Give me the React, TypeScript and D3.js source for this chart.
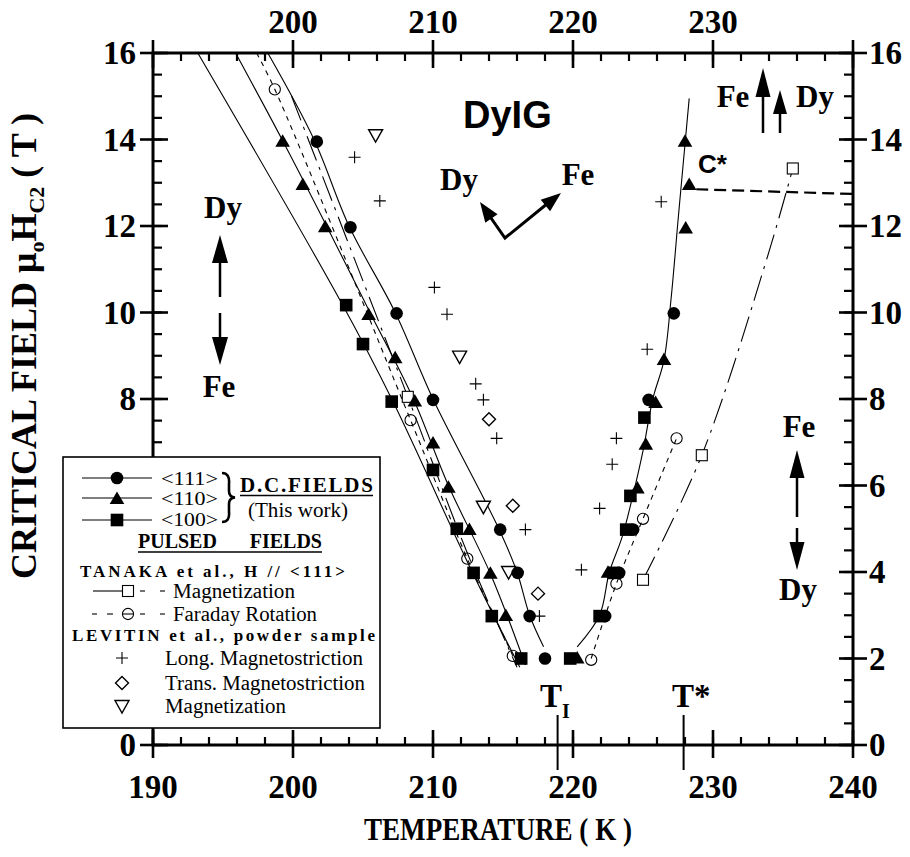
import React from 'react';
import * as d3 from 'd3';

const W = 910;
const H = 857;
const SERIF = '"Liberation Serif", "Times New Roman", serif';
const SANS = '"Liberation Sans", Arial, sans-serif';

const xDomain = [190, 240];
const yDomain = [0, 16];
const xLabelsBottom = [190, 200, 210, 220, 230, 240];
const xLabelsTop = [200, 210, 220, 230];
const yLabels = [0, 2, 4, 6, 8, 10, 12, 14, 16];
const T_I = 218.9;
const T_STAR = 227.9;

// data points: [temperature K, critical field T]
const dc111 = [[201.7, 13.95], [204.1, 11.97], [207.4, 9.98], [210.0, 7.98], [214.8, 4.98], [216.05, 3.98], [216.9, 2.98], [218.0, 2.0], [222.3, 2.98], [223.3, 3.98], [224.3, 4.98], [225.4, 7.98], [227.2, 9.98]];
const dc110 = [[199.26, 13.95], [200.7, 12.95], [202.3, 11.97], [205.4, 9.94], [207.3, 8.94], [208.7, 7.94], [210.0, 6.97], [211.1, 5.95], [212.6, 4.97], [214.1, 3.96], [215.2, 2.98], [220.3, 2.0], [222.5, 3.98], [224.6, 5.93], [225.2, 6.94], [225.9, 7.91], [226.5, 8.9], [228.05, 11.94], [228.3, 12.95], [228.0, 13.95]];
const dc100 = [[203.8, 10.17], [205.0, 9.27], [207.05, 7.94], [210.0, 6.36], [211.7, 5.0], [212.9, 3.98], [214.2, 2.98], [216.3, 2.0], [219.8, 2.0], [221.9, 2.98], [222.9, 3.98], [223.8, 4.98], [224.1, 5.76], [225.1, 7.57]];
const tanakaMag = [[208.2, 8.05], [225.0, 3.82], [229.2, 6.7], [235.7, 13.33]];
const tanakaFaraday = [[198.7, 15.16], [208.4, 7.51], [212.45, 4.31], [215.7, 2.06], [221.3, 1.97], [223.1, 3.73], [225.0, 5.23], [227.4, 7.09]];
const levitinLong = [[204.4, 13.59], [206.2, 12.58], [210.1, 10.58], [211.0, 9.96], [213.05, 8.35], [213.6, 7.98], [214.55, 7.09], [216.6, 4.98], [217.6, 2.98], [220.6, 4.05], [221.9, 5.47], [222.8, 6.49], [223.1, 7.09], [225.3, 9.15], [226.3, 12.56]];
const levitinTrans = [[214.0, 7.53], [215.7, 5.53], [217.5, 3.5]];
const levitinMag = [[205.9, 14.1], [211.9, 8.98], [213.6, 5.51], [215.4, 4.0]];

// guide curves
const fit100 = [[193.2, 16], [203.5, 10.2], [207.2, 7.9], [212.8, 4.0], [216.2, 1.8]];
const fit110 = [[195.9, 16], [199.3, 13.95], [202.4, 12.0], [205.5, 10.0], [208.6, 8.0], [211.1, 6.0], [214.1, 3.96], [216.6, 1.85]];
const fit111 = [[198.2, 16], [201.5, 14.0], [204.0, 12.0], [207.3, 10.0], [210.0, 8.0], [214.7, 5.0], [216.0, 4.0], [216.9, 3.0], [217.9, 2.27]];
const fitRight = [[220.3, 2.27], [221.9, 3.0], [222.6, 4.0], [223.5, 4.8], [224.3, 5.8], [225.0, 6.8], [225.7, 8.0], [226.5, 8.9], [227.0, 10.3], [227.55, 12.3], [228.3, 14.95]];
const faradayLeft = [[197.4, 16], [198.7, 15.16], [208.4, 7.51], [212.45, 4.31], [215.7, 2.06], [216.0, 1.8]];
const faradayRight = [[221.3, 2.0], [223.1, 3.73], [225.0, 5.23], [227.4, 7.09]];
const tanakaLeft = [[199.9, 15.0], [205.2, 10.56], [208.2, 8.05], [212.5, 4.4], [216.0, 1.8]];
const tanakaRight = [[225.0, 3.82], [229.2, 6.7], [233.9, 11.3], [235.7, 13.33]];
const cStarLine = [[228.8, 12.85], [240, 12.74]];

const x = d3.scaleLinear().domain(xDomain).range([153, 853]);
const y = d3.scaleLinear().domain(yDomain).range([745, 53]);
const line = d3.line<number[]>().x(d => x(d[0])).y(d => y(d[1])).curve(d3.curveCatmullRom.alpha(0.5));

const LEG = { x: 63, y: 457, w: 317, h: 271 };

const fcirc = (cx: number, cy: number, k: string) => <circle key={k} cx={cx} cy={cy} r={6.3} fill="#000" />;
const ftri = (cx: number, cy: number, k: string) => <path key={k} d={`M${cx},${cy - 7.5}L${cx + 7.3},${cy + 5}L${cx - 7.3},${cy + 5}Z`} fill="#000" />;
const fsq = (cx: number, cy: number, k: string) => <rect key={k} x={cx - 6.3} y={cy - 6.3} width={12.6} height={12.6} fill="#000" />;
const osq = (cx: number, cy: number, k: string) => <rect key={k} x={cx - 5.5} y={cy - 5.5} width={11} height={11} fill="#fff" stroke="#000" strokeWidth={1.1} />;
const ocirc = (cx: number, cy: number, k: string) => <circle key={k} cx={cx} cy={cy} r={5.6} fill="none" stroke="#000" strokeWidth={1.1} />;
const plus = (cx: number, cy: number, k: string) => <path key={k} d={`M${cx - 6},${cy}H${cx + 6}M${cx},${cy - 6}V${cy + 6}`} stroke="#000" strokeWidth={1.1} fill="none" />;
const diam = (cx: number, cy: number, k: string) => <path key={k} d={`M${cx},${cy - 6.5}L${cx + 6.5},${cy}L${cx},${cy + 6.5}L${cx - 6.5},${cy}Z`} stroke="#000" strokeWidth={1.4} fill="#fff" />;
const itri = (cx: number, cy: number, k: string) => <path key={k} d={`M${cx - 7},${cy - 5.5}L${cx + 7},${cy - 5.5}L${cx},${cy + 7}Z`} stroke="#000" strokeWidth={1.4} fill="#fff" />;

function arrowHead(x2: number, y2: number, x1: number, y1: number, len: number, wid: number, k: string) {
  const dx = x2 - x1, dy = y2 - y1;
  const L = Math.hypot(dx, dy);
  const ux = dx / L, uy = dy / L;
  const bx = x2 - ux * len, by = y2 - uy * len;
  const px = -uy * wid / 2, py = ux * wid / 2;
  return <path key={k} d={`M${x2},${y2}L${bx + px},${by + py}L${bx - px},${by - py}Z`} fill="#000" />;
}

export default function App() {
  const minorX = d3.range(190, 240.01, 2);
  const majorX = d3.range(190, 240.01, 10);
  const minorY = d3.range(0, 16.01, 0.5);
  const majorY = d3.range(0, 16.01, 2);
  const x0 = x(190), x1 = x(240), y0 = y(0), y1 = y(16);
  const tick = { stroke: '#000', strokeWidth: 2.2 };
  const lbl = { fontFamily: SERIF, fontWeight: 700, fontSize: 33 } as const;
  // left tick labels hidden behind the legend box are not drawn
  const leftLabels = yLabels.filter(v => y(v) < LEG.y - 10 || y(v) > LEG.y + LEG.h + 5);

  return (
    <svg width={W} height={H} style={{ position: 'absolute', left: 0, top: 0, background: '#fff' }} viewBox={`0 0 ${W} ${H}`}>
      <rect width={W} height={H} fill="#fff" />
      <defs>
        <clipPath id="plot"><rect x={x0} y={y1} width={x1 - x0} height={y0 - y1} /></clipPath>
      </defs>

      {/* guide curves */}
      <g clipPath="url(#plot)" fill="none" stroke="#000" strokeWidth={1.1}>
        <path d={line(fit100) || ''} />
        <path d={line(fit110) || ''} />
        <path d={line(fit111) || ''} />
        <path d={line(fitRight) || ''} />
        <path d={line(faradayLeft) || ''} strokeDasharray="5,5" />
        <path d={line(faradayRight) || ''} strokeDasharray="5,5" />
        <path d={line(tanakaLeft) || ''} strokeDasharray="26,7,3,7" />
        <path d={line(tanakaRight) || ''} strokeDasharray="26,7,3,7" />
        <path d={line(cStarLine) || ''} strokeDasharray="12,6" strokeWidth={2.2} />
      </g>

      {/* markers */}
      <g>
        {levitinLong.map((d, i) => plus(x(d[0]), y(d[1]), 'll' + i))}
        {levitinTrans.map((d, i) => diam(x(d[0]), y(d[1]), 'lt' + i))}
        {levitinMag.map((d, i) => itri(x(d[0]), y(d[1]), 'lm' + i))}
        {tanakaMag.map((d, i) => osq(x(d[0]), y(d[1]), 'tm' + i))}
        {tanakaFaraday.map((d, i) => ocirc(x(d[0]), y(d[1]), 'tf' + i))}
        {dc100.map((d, i) => fsq(x(d[0]), y(d[1]), 'sq' + i))}
        {dc110.map((d, i) => ftri(x(d[0]), y(d[1]), 'tr' + i))}
        {dc111.map((d, i) => fcirc(x(d[0]), y(d[1]), 'ci' + i))}
      </g>

      {/* axes */}
      <g>
        <rect x={x0} y={y1} width={x1 - x0} height={y0 - y1} fill="none" stroke="#000" strokeWidth={3} />
        {minorX.map(v => (
          <g key={'mx' + v}>
            <line x1={x(v)} x2={x(v)} y1={y0} y2={y0 - 8} {...tick} />
            <line x1={x(v)} x2={x(v)} y1={y1} y2={y1 + 8} {...tick} />
          </g>
        ))}
        {majorX.map(v => (
          <g key={'Mx' + v}>
            <line x1={x(v)} x2={x(v)} y1={y0 + 13} y2={y0 - 15} {...tick} strokeWidth={2.6} />
            <line x1={x(v)} x2={x(v)} y1={y1 - 13} y2={y1 + 15} {...tick} strokeWidth={2.6} />
          </g>
        ))}
        {minorY.map(v => (
          <g key={'my' + v}>
            <line x1={x0} x2={x0 + 9} y1={y(v)} y2={y(v)} {...tick} />
            <line x1={x1} x2={x1 - 9} y1={y(v)} y2={y(v)} {...tick} />
          </g>
        ))}
        {majorY.map(v => (
          <g key={'My' + v}>
            <line x1={x0 - 13} x2={x0 + 15} y1={y(v)} y2={y(v)} {...tick} strokeWidth={2.6} />
            <line x1={x1 + 14} x2={x1 - 14} y1={y(v)} y2={y(v)} {...tick} strokeWidth={2.6} />
          </g>
        ))}
        <line x1={x(T_I)} x2={x(T_I)} y1={715} y2={770} stroke="#000" strokeWidth={2} />
        <line x1={x(T_STAR)} x2={x(T_STAR)} y1={715} y2={770} stroke="#000" strokeWidth={2} />
        {xLabelsBottom.map(v => (
          <text key={'bl' + v} x={x(v)} y={798} textAnchor="middle" {...lbl}>{v}</text>
        ))}
        {xLabelsTop.map(v => (
          <text key={'tl' + v} x={x(v)} y={33} textAnchor="middle" {...lbl}>{v}</text>
        ))}
        {leftLabels.map(v => (
          <text key={'yl' + v} x={136} y={y(v) + 11} textAnchor="end" {...lbl}>{v}</text>
        ))}
        {yLabels.map(v => (
          <text key={'yr' + v} x={869} y={y(v) + 11} textAnchor="start" {...lbl}>{v}</text>
        ))}
      </g>

      {/* axis titles */}
      <text x={498} y={840} textAnchor="middle" fontFamily={SERIF} fontWeight={700} fontSize={31} textLength={268} lengthAdjust="spacingAndGlyphs">TEMPERATURE ( K )</text>
      <text transform="translate(36,346) rotate(-90)" textAnchor="middle" fontFamily={SERIF} fontWeight={700} fontSize={36}>
        CRITICAL FIELD μ<tspan fontSize={22} dy={8}>o</tspan><tspan dy={-8}>H</tspan><tspan fontSize={22} dy={8}>C2</tspan><tspan dy={-8}> ( T )</tspan>
      </text>

      {/* annotations */}
      <text x={463} y={128} fontFamily={SANS} fontWeight={700} fontSize={38}>DyIG</text>
      <text x={698} y={173} fontFamily={SANS} fontWeight={700} fontSize={26}>C*</text>
      <text x={540} y={707} fontFamily={SERIF} fontWeight={700} fontSize={33}>T</text>
      <text x={562} y={718} fontFamily={SERIF} fontWeight={700} fontSize={20}>I</text>
      <text x={672} y={707} fontFamily={SERIF} fontWeight={700} fontSize={33}>T*</text>

      <g fontFamily={SERIF} fontWeight={700} fontSize={31} textAnchor="middle">
        <text x={223} y={218}>Dy</text>
        <text x={219} y={397}>Fe</text>
        <line x1={220} x2={220} y1={258} y2={297} stroke="#000" strokeWidth={2.5} />
        <line x1={220} x2={220} y1={313} y2={342} stroke="#000" strokeWidth={2.5} />
        {arrowHead(220, 235, 220, 300, 28, 16, 'a1')}
        {arrowHead(220, 365, 220, 300, 28, 16, 'a2')}
        <text x={799} y={437}>Fe</text>
        <text x={798} y={600}>Dy</text>
        <line x1={797} x2={797} y1={474} y2={517} stroke="#000" strokeWidth={2.5} />
        <line x1={797} x2={797} y1={528} y2={546} stroke="#000" strokeWidth={2.5} />
        {arrowHead(797, 450, 797, 520, 28, 15, 'a3')}
        {arrowHead(797, 570, 797, 520, 28, 15, 'a4')}
        <text x={733} y={107}>Fe</text>
        <text x={815} y={107}>Dy</text>
        <line x1={763} x2={763} y1={92} y2={133} stroke="#000" strokeWidth={2.5} />
        <line x1={780} x2={780} y1={110} y2={133} stroke="#000" strokeWidth={2.5} />
        {arrowHead(763, 68, 763, 133, 29, 15, 'a5')}
        {arrowHead(780, 90, 780, 133, 24, 14, 'a6')}
        <text x={459} y={190}>Dy</text>
        <text x={578} y={185}>Fe</text>
        <path d="M484,208L505,238L553,199" fill="none" stroke="#000" strokeWidth={3} />
        {arrowHead(480, 202, 505, 238, 20, 15, 'a7')}
        {arrowHead(561, 193, 505, 238, 20, 15, 'a8')}
      </g>

      {/* legend */}
      <g>
        <rect x={LEG.x} y={LEG.y} width={LEG.w} height={LEG.h} fill="#fff" stroke="#000" strokeWidth={1.6} />
        <g stroke="#000" strokeWidth={1.1}>
          <line x1={82} x2={152} y1={478} y2={478} />
          <line x1={82} x2={152} y1={498} y2={498} />
          <line x1={82} x2={152} y1={520} y2={520} />
        </g>
        {fcirc(117, 478, 'lg1')}
        {ftri(117, 499, 'lg2')}
        {fsq(117, 520, 'lg3')}
        <g fontFamily={SERIF} fontSize={19}>
          <text x={161} y={485} textLength={57} lengthAdjust="spacingAndGlyphs">&lt;111&gt;</text>
          <text x={161} y={505} textLength={57} lengthAdjust="spacingAndGlyphs">&lt;110&gt;</text>
          <text x={161} y={526} textLength={57} lengthAdjust="spacingAndGlyphs">&lt;100&gt;</text>
        </g>
        <text x={248} y={517} fontFamily={SERIF} fontSize={20} textLength={100} lengthAdjust="spacingAndGlyphs">(This work)</text>
        <path d="M222,473Q230,473 229,484L229,491Q229,497 235,497.5Q229,498 229,504L229,512Q230,522 222,522" fill="none" stroke="#000" strokeWidth={2.6} />
        <text x={240} y={492} fontFamily={SERIF} fontWeight={700} fontSize={21} textLength={133} lengthAdjust="spacing">D.C.FIELDS</text>
        <line x1={240} x2={373} y1={495.5} y2={495.5} stroke="#000" strokeWidth={1.3} />
        <text x={138} y={548} fontFamily={SERIF} fontWeight={700} fontSize={20}>PULSED</text>
        <text x={322} y={548} fontFamily={SERIF} fontWeight={700} fontSize={20} textAnchor="end">FIELDS</text>
        <line x1={138} x2={322} y1={552} y2={552} stroke="#000" strokeWidth={1.3} />
        <text x={80} y={577} fontFamily={SERIF} fontWeight={700} fontSize={17} textLength={265} lengthAdjust="spacing">TANAKA  et  al.,  H  //  &lt;111&gt;</text>
        <line x1={93} x2={123} y1={591} y2={591} stroke="#000" strokeWidth={1.1} />
        <line x1={140} x2={145} y1={591} y2={591} stroke="#000" strokeWidth={1.1} />
        <line x1={160} x2={165} y1={591} y2={591} stroke="#000" strokeWidth={1.1} />
        {osq(128, 591, 'lg4')}
        <text x={173} y={598} fontFamily={SERIF} fontSize={20} textLength={122} lengthAdjust="spacingAndGlyphs">Magnetization</text>
        <g stroke="#000" strokeWidth={1.1}>
          <line x1={92} x2={97} y1={614} y2={614} />
          <line x1={107} x2={113} y1={614} y2={614} />
          <line x1={123} x2={133} y1={614} y2={614} />
          <line x1={140} x2={145} y1={614} y2={614} />
          <line x1={160} x2={165} y1={614} y2={614} />
        </g>
        {ocirc(128, 614, 'lg5')}
        <text x={173} y={621} fontFamily={SERIF} fontSize={20} textLength={144} lengthAdjust="spacingAndGlyphs">Faraday Rotation</text>
        <text x={72} y={641} fontFamily={SERIF} fontWeight={700} fontSize={17} textLength={303} lengthAdjust="spacing">LEVITIN  et  al.,  powder  sample</text>
        {plus(122, 658, 'lg6')}
        {diam(122, 683, 'lg7')}
        {itri(122, 706, 'lg8')}
        <g fontFamily={SERIF} fontSize={20}>
          <text x={165} y={665} textLength={198} lengthAdjust="spacingAndGlyphs">Long. Magnetostriction</text>
          <text x={165} y={690} textLength={200} lengthAdjust="spacingAndGlyphs">Trans. Magnetostriction</text>
          <text x={165} y={713} textLength={121} lengthAdjust="spacingAndGlyphs">Magnetization</text>
        </g>
      </g>
    </svg>
  );
}
